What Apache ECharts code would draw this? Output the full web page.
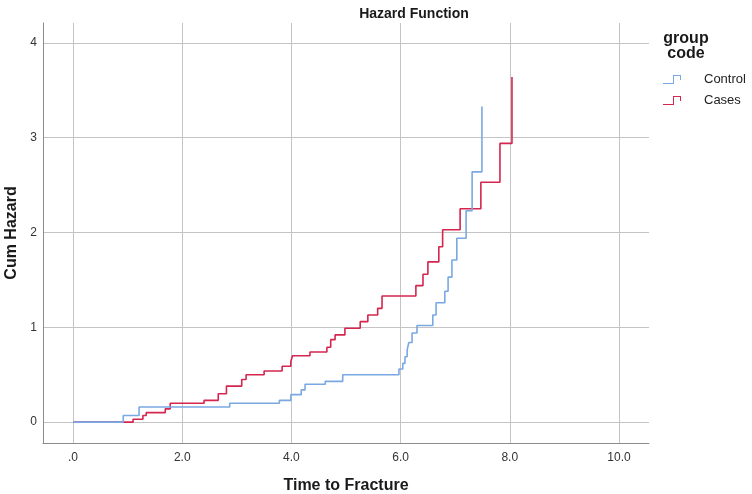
<!DOCTYPE html>
<html>
<head>
<meta charset="utf-8">
<script src="https://cdn.jsdelivr.net/npm/echarts@6/dist/echarts.min.js"></script>
<style>html,body{margin:0;padding:0;background:#fff;}#c{width:752px;height:494px;}</style>
</head>
<body>
<div id="c"></div>
<script>
// Time to fracture (x) and cumulative hazard (y) at each event
const controlTime   = [0, 0.92, 1.21, 2.87, 3.78, 3.99, 4.18, 4.25, 4.62, 4.94, 5.97, 6.04, 6.08, 6.12, 6.15, 6.21, 6.30, 6.59, 6.65, 6.81, 6.87, 6.94, 7.03, 7.20, 7.31, 7.49];
const controlHazard = [0, 0.07, 0.16, 0.20, 0.23, 0.29, 0.34, 0.40, 0.43, 0.50, 0.56, 0.62, 0.69, 0.76, 0.84, 0.94, 1.02, 1.13, 1.26, 1.38, 1.53, 1.71, 1.94, 2.23, 2.64, 3.33];
const casesTime     = [0, 1.10, 1.28, 1.34, 1.69, 1.78, 2.40, 2.66, 2.81, 3.09, 3.17, 3.50, 3.83, 3.99, 4.02, 4.34, 4.65, 4.72, 4.80, 4.98, 5.26, 5.40, 5.58, 5.66, 6.28, 6.41, 6.50, 6.70, 6.77, 7.09, 7.47, 7.82, 8.04];
const casesHazard   = [0, 0.03, 0.07, 0.10, 0.14, 0.20, 0.23, 0.30, 0.38, 0.45, 0.50, 0.54, 0.59, 0.64, 0.70, 0.74, 0.79, 0.87, 0.92, 0.99, 1.06, 1.13, 1.20, 1.33, 1.44, 1.56, 1.69, 1.85, 2.03, 2.25, 2.53, 2.94, 3.64];
const xTicks = [0, 2, 4, 6, 8, 10];
const yTicks = [0, 1, 2, 3, 4];
const groupNames = ['Control', 'Cases'];

const zip = (a, b) => a.map((v, i) => [v, b[i]]);
const font = "'Liberation Sans Narrow', 'Liberation Sans', Arial, sans-serif";
const stepIcon = 'path://M0,9 L10,9 L10,1 L18,1 L18,6 L17,6 L17,2 L11,2 L11,10 L0,10 Z';

const chart = echarts.init(document.getElementById('c'));
chart.setOption({
  animation: false,
  backgroundColor: '#ffffff',
  title: [
    { text: 'Hazard Function', left: 409, top: 2, textAlign: 'center',
      textStyle: { fontFamily: font, fontSize: 14, fontWeight: 'bold', color: '#1a1a1a' } },
    { text: 'group\ncode', left: 681, top: 26, textAlign: 'center',
      textStyle: { fontFamily: font, fontSize: 16, fontWeight: 'bold', color: '#1a1a1a', lineHeight: 15 } }
  ],
  legend: {
    orient: 'vertical', left: 658, top: 68, itemGap: 8, itemWidth: 18, itemHeight: 10,
    icon: stepIcon,
    itemStyle: { borderWidth: 0 },
    textStyle: { fontFamily: font, fontSize: 13, color: '#222', padding: [0, 0, 0, 18] },
    data: groupNames
  },
  grid: { left: 43, top: 23, width: 606, height: 420, containLabel: false, outerBoundsMode: 'none' },
  xAxis: {
    type: 'value', min: -0.55, max: 10.55,
    name: 'Time to Fracture', nameLocation: 'middle', nameGap: 35,
    nameTextStyle: { fontFamily: font, fontSize: 16, fontWeight: 'bold', color: '#1a1a1a' },
    axisLine: { show: true, onZero: false, lineStyle: { color: '#8c8c8c', width: 1 } },
    axisTick: { show: false, customValues: xTicks },
    axisLabel: { customValues: xTicks, margin: 9, fontFamily: font, fontSize: 12, color: '#333',
      formatter: v => v === 0 ? '.0' : v.toFixed(1) },
    splitLine: { show: true, lineStyle: { color: '#c4c4c4', width: 1 } }
  },
  yAxis: {
    type: 'value', min: -0.22, max: 4.21,
    name: 'Cum Hazard', nameLocation: 'middle', nameGap: 22, nameRotate: 90,
    nameTextStyle: { fontFamily: font, fontSize: 16, fontWeight: 'bold', color: '#1a1a1a' },
    axisLine: { show: true, onZero: false, lineStyle: { color: '#8c8c8c', width: 1 } },
    axisTick: { show: false, customValues: yTicks },
    axisLabel: { customValues: yTicks, margin: 6, fontFamily: font, fontSize: 12, color: '#333',
      formatter: v => String(v) },
    splitLine: { show: true, lineStyle: { color: '#c4c4c4', width: 1 } }
  },
  series: [
    { name: groupNames[0], type: 'line', step: 'end', showSymbol: false, data: zip(controlTime, controlHazard),
      color: '#7aa8e2', lineStyle: { width: 1.6, color: '#7aa8e2' }, z: 3 },
    { name: groupNames[1], type: 'line', step: 'end', showSymbol: false, data: zip(casesTime, casesHazard),
      color: '#d4264e', lineStyle: { width: 1.6, color: '#d4264e' }, z: 2 }
  ]
});
</script>
</body>
</html>
